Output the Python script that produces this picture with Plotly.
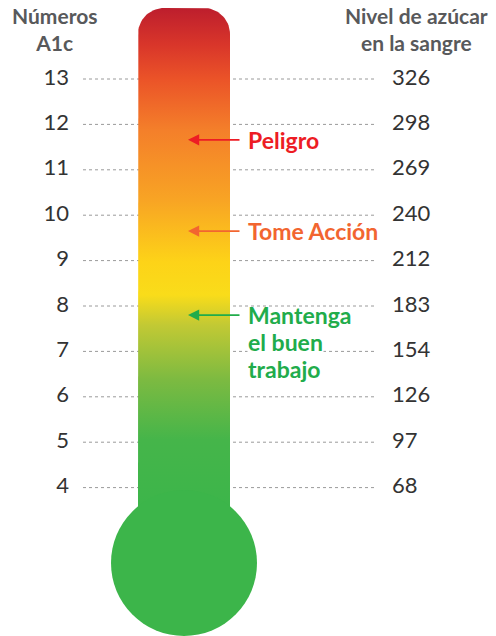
import numpy as np
import plotly.graph_objects as go

# ---- data ----
a1c_values = [4, 5, 6, 7, 8, 9, 10, 11, 12, 13]
glucose_values = [68, 97, 126, 154, 183, 212, 240, 269, 298, 326]
zone_labels = ["Peligro", "Tome Acción", "Mantenga<br>el buen<br>trabajo"]
zone_a1c = [11.66, 9.65, 7.8]
zone_colors = ["#ed1c24", "#f26530", "#21ac4b"]
left_title = "Números<br>A1c"
right_title = "Nivel de azúcar<br>en la sangre"

# ---- geometry helpers (page pixel -> axis units) ----
W, H = 496, 636
PX_PER_UNIT = 45.4
Y13 = 79


def v(px):
    return 13 - (px - Y13) / PX_PER_UNIT


TUBE_L, TUBE_R, TUBE_T, TUBE_B, RAD = 138, 230, 8, 510, 26
BULB_CX, BULB_CY, BULB_R = 184, 563, 73

# rounded-top tube outline in pixel space
pts = [(TUBE_L, TUBE_B)]
for a in np.linspace(np.pi, np.pi / 2, 20):
    pts.append((TUBE_L + RAD + RAD * np.cos(a), TUBE_T + RAD - RAD * np.sin(a)))
for a in np.linspace(np.pi / 2, 0, 20):
    pts.append((TUBE_R - RAD + RAD * np.cos(a), TUBE_T + RAD - RAD * np.sin(a)))
pts.append((TUBE_R, TUBE_B))
pts.append((TUBE_L, TUBE_B))
tx = [p[0] for p in pts]
ty = [v(p[1]) for p in pts]

# gradient stops (pixel y, colour), converted to fraction from bottom
stops_px = [(510, "#3cb54a"), (440, "#45b54a"), (380, "#7cba41"), (325, "#c2c934"),
            (295, "#f9dc1a"), (262, "#fdd318"), (200, "#f8a424"), (130, "#f47f2a"),
            (80, "#eb5428"), (45, "#d9362a"), (8, "#bd1e2d")]
cscale = [[(TUBE_B - p) / (TUBE_B - TUBE_T), c] for p, c in stops_px]

fig = go.Figure()

# dotted guide lines
for a in a1c_values:
    fig.add_trace(go.Scatter(x=[83, 377], y=[a, a], mode="lines",
                             line=dict(color="#9a9a9a", width=1, dash="dot"),
                             hoverinfo="skip", showlegend=False))

# tube
fig.add_trace(go.Scatter(x=tx, y=ty, mode="lines", fill="toself",
                         line=dict(width=0, color="rgba(0,0,0,0)"),
                         fillgradient=dict(type="vertical", colorscale=cscale),
                         hoverinfo="skip", showlegend=False))

# bulb
fig.add_shape(type="circle", xref="x", yref="y",
              x0=BULB_CX - BULB_R, x1=BULB_CX + BULB_R,
              y0=v(BULB_CY + BULB_R), y1=v(BULB_CY - BULB_R),
              fillcolor="#3cb54a", line=dict(width=0))

# tick labels
fig.add_trace(go.Scatter(x=[69] * len(a1c_values), y=a1c_values, mode="text",
                         text=[str(a) for a in a1c_values], textposition="middle left",
                         textfont=dict(family="Lato", size=22, color="#333333"),
                         hoverinfo="skip", showlegend=False))
fig.add_trace(go.Scatter(x=[392] * len(glucose_values), y=a1c_values, mode="text",
                         text=[str(g) for g in glucose_values], textposition="middle right",
                         textfont=dict(family="Lato", size=22, color="#333333"),
                         hoverinfo="skip", showlegend=False))

ann = []
for title, cx in ((left_title, 54), (right_title, 416)):
    ann.append(dict(x=cx, y=v(29), text=title, showarrow=False, align="center",
                    xref="x", yref="y", xanchor="center", yanchor="middle",
                    font=dict(family="Lato", size=21, color="#58595b", weight="bold")))

for lab, a, c in zip(zone_labels, zone_a1c, zone_colors):
    ann.append(dict(x=188, y=a, ax=241, ay=a, axref="x", ayref="y", xref="x", yref="y",
                    text="", showarrow=True, arrowhead=2, arrowsize=1.4, arrowwidth=1.6,
                    arrowcolor=c))
    lines = lab.split("<br>")
    for i, ln in enumerate(lines):
        ann.append(dict(x=247, y=a - i * 27 / PX_PER_UNIT, text=ln, showarrow=False,
                        xref="x", yref="y", xanchor="left", yanchor="middle",
                        bgcolor="white" if i > 0 else None, borderpad=0,
                        font=dict(family="Lato", size=23, color=c, weight="bold")))

fig.update_layout(width=W, height=H, margin=dict(l=0, r=0, t=0, b=0),
                  paper_bgcolor="white", plot_bgcolor="white",
                  xaxis=dict(range=[0, W], visible=False, fixedrange=True),
                  yaxis=dict(range=[v(H), v(0)], visible=False, fixedrange=True),
                  annotations=ann, showlegend=False)

fig.write_html("out.html", config={"displayModeBar": False},
               post_script="document.body.style.margin='0';document.body.style.overflow='hidden';")
